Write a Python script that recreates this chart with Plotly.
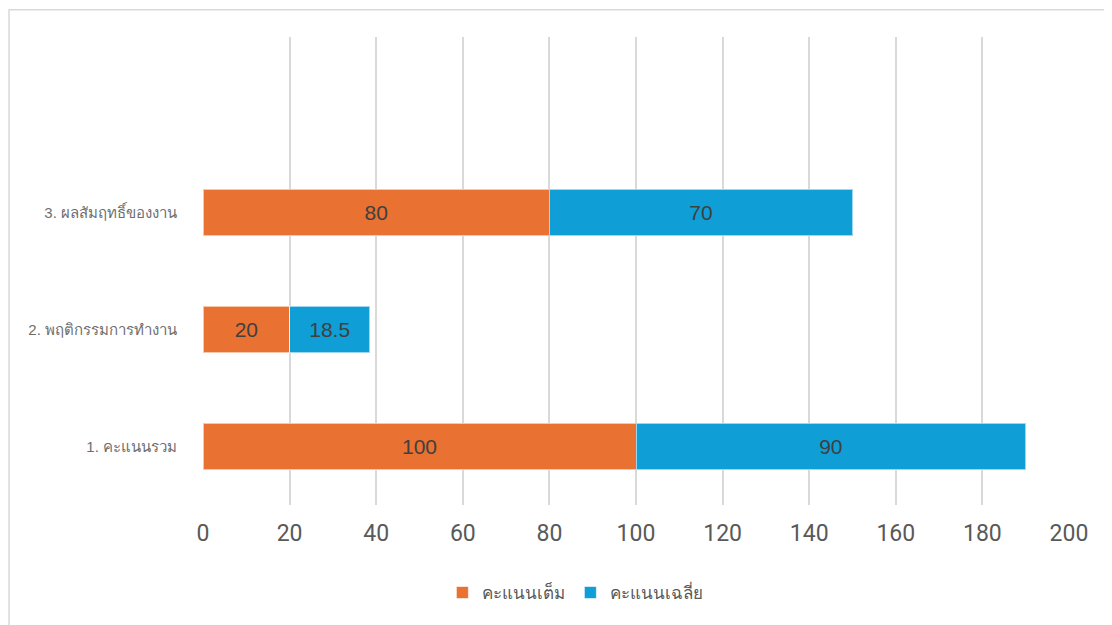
import plotly.graph_objects as go

categories = ["1. คะแนนรวม", "2. พฤติกรรมการทำงาน", "3. ผลสัมฤทธิ์ของงาน"]
full_scores = [100, 20, 80]
avg_scores = [90, 18.5, 70]
series_names = ["คะแนนเต็ม", "คะแนนเฉลี่ย"]
x_ticks = [0, 20, 40, 60, 80, 100, 120, 140, 160, 180, 200]

NUMFONT = "Liberation Sans Narrow, Arial Narrow, Roboto, Liberation Sans, sans-serif"
FONT = "Liberation Sans, sans-serif"

fig = go.Figure()
fig.add_trace(go.Bar(
    y=categories, x=full_scores, name=series_names[0], orientation="h",
    marker=dict(color="#E97132", line=dict(color="rgba(255,255,255,0.6)", width=1)),
    text=[str(v) for v in full_scores], textposition="inside", insidetextanchor="middle",
    textfont=dict(size=21, color="#404040", family=FONT),
))
fig.add_trace(go.Bar(
    y=categories, x=avg_scores, name=series_names[1], orientation="h",
    marker=dict(color="#0F9ED5", line=dict(color="rgba(255,255,255,0.6)", width=1)),
    text=[str(v) for v in avg_scores], textposition="inside", insidetextanchor="middle",
    textfont=dict(size=21, color="#404040", family=FONT),
))

fig.update_layout(
    barmode="stack", bargap=0.6,
    width=1104, height=617,
    margin=dict(l=195, r=43, t=29, b=120),
    paper_bgcolor="white", plot_bgcolor="white",
    font=dict(family=FONT, color="#595959"),
    showlegend=True,
    legend=dict(orientation="h", x=0.43, xanchor="center", y=-0.188, yanchor="middle",
                font=dict(size=17, color="#595959"), traceorder="normal",
                itemwidth=30),
    xaxis=dict(range=[0, 200], tickvals=x_ticks, showgrid=True, gridcolor="#D9D9D9",
               gridwidth=1.5, zeroline=False, showline=False,
               tickfont=dict(size=23, color="#595959", family=NUMFONT), ticks="",
               ticklabelstandoff=12),
    yaxis=dict(categoryorder="array", categoryarray=categories, range=[-0.5, 3.5],
               showgrid=False, zeroline=False, showline=False,
               tickfont=dict(size=15, color="#6E6E6E"), ticks="", ticklabelstandoff=25),
    shapes=[dict(type="rect", xref="paper", yref="paper", x0=-0.224, x1=1.2, y0=-0.3, y1=1.058,
                 line=dict(color="#D9D9D9", width=1.5), fillcolor="rgba(0,0,0,0)", layer="below")],
)

fig.write_html("out.html")
